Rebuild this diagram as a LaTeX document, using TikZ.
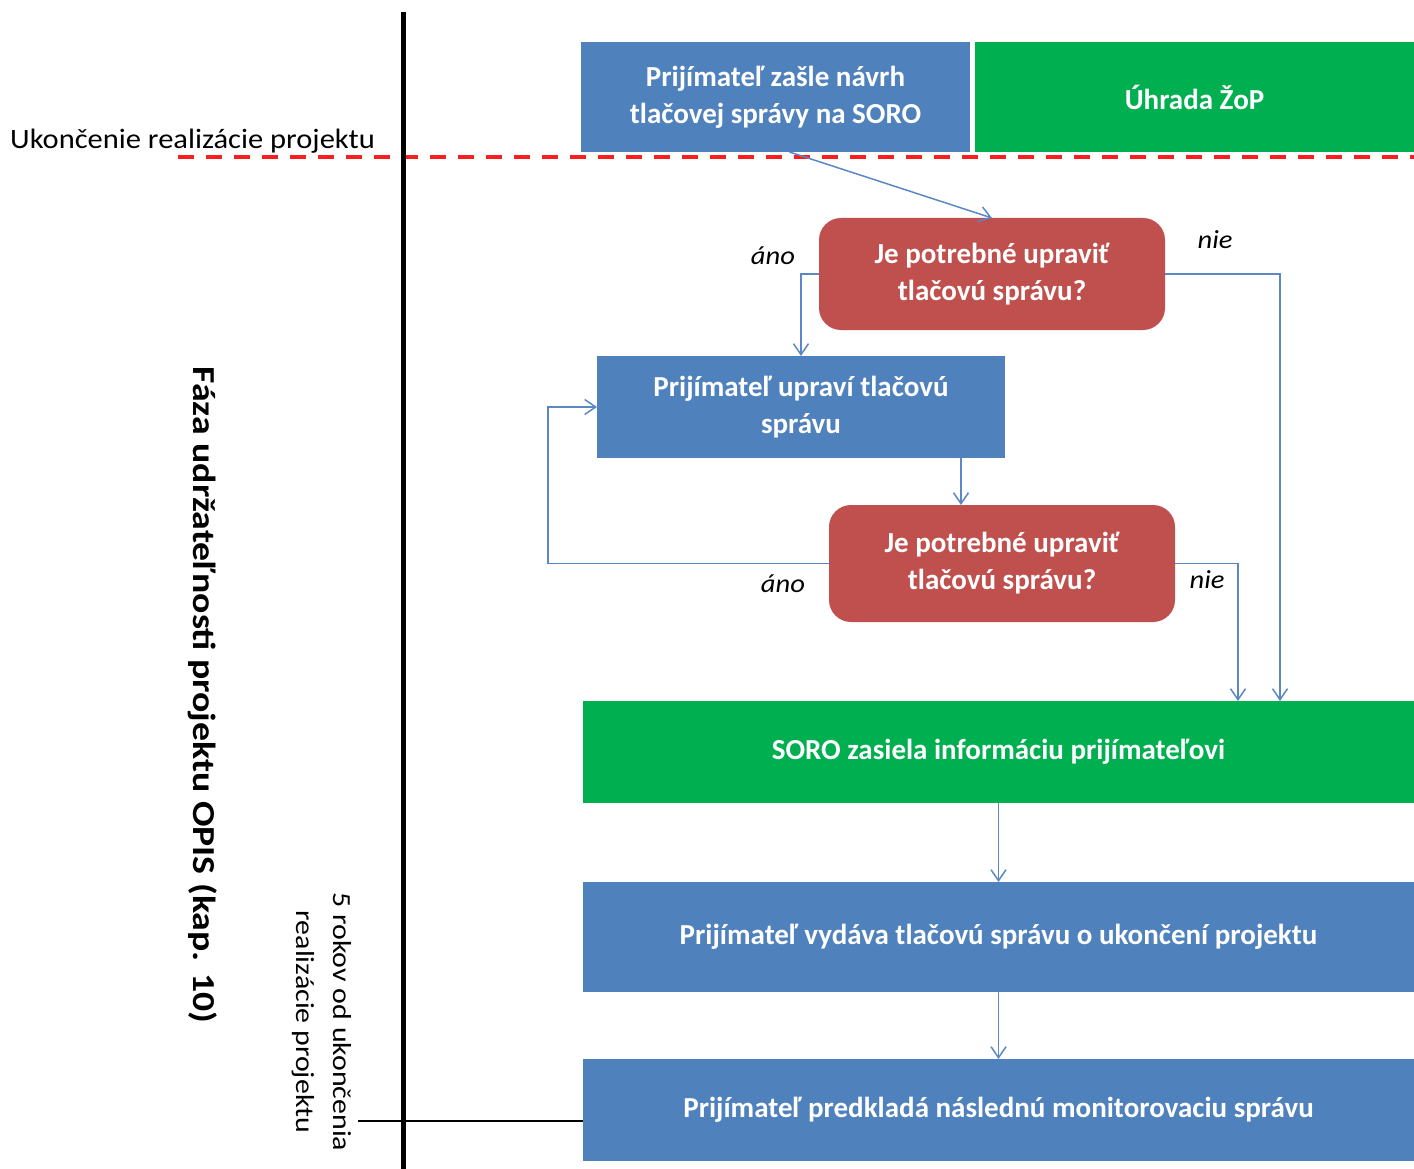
\documentclass[tikz,border=0pt]{standalone}
\usepackage{fontspec}
\setmainfont{Carlito}
\usetikzlibrary{arrows.meta}
\definecolor{boxblue}{RGB}{79,129,189}
\definecolor{boxred}{RGB}{192,80,77}
\definecolor{boxgreen}{RGB}{0,176,80}
\definecolor{lineblue}{RGB}{91,135,197}
\definecolor{dashred}{RGB}{250,30,30}
\tikzset{
  box/.style={inner sep=0pt, outer sep=0pt, align=center, text=white,
    font=\fontsize{29}{37}\selectfont\bfseries},
  bluebox/.style={box, fill=boxblue},
  greenbox/.style={box, fill=boxgreen},
  redbox/.style={box, fill=boxred, rounded corners=22pt},
  arr/.style={draw=lineblue, line width=1.5pt, -{Straight Barb[length=11pt,width=15pt]}},
  lbl/.style={font=\fontsize{26}{30}\selectfont\itshape, inner sep=0pt, xscale=1.1}
}
\begin{document}
\begin{tikzpicture}[x=1pt,y=-1pt]
\useasboundingbox (0,0) rectangle (1414,1169);
% boxes
\node[bluebox, minimum width=389pt, minimum height=110pt] (b1) at (775.5,97) {Prijímateľ zašle návrh\\tlačovej správy na SORO};
\node[greenbox, minimum width=439pt, minimum height=110pt] (g1) at (1194.5,97) {Úhrada ŽoP};
\node[redbox, minimum width=346pt, minimum height=112pt] (d1) at (992,274) {Je potrebné upraviť\\tlačovú správu?};
\node[bluebox, minimum width=408pt, minimum height=102pt] (b2) at (801,407) {Prijímateľ upraví tlačovú\\správu};
\node[redbox, minimum width=346pt, minimum height=117pt] (d2) at (1002,563.5) {Je potrebné upraviť\\tlačovú správu?};
\node[greenbox, minimum width=831pt, minimum height=102pt] (g2) at (998.5,752) {SORO zasiela informáciu prijímateľovi};
\node[bluebox, minimum width=831pt, minimum height=110pt] (b3) at (998.5,937) {Prijímateľ vydáva tlačovú správu o ukončení projektu};
\node[bluebox, minimum width=831pt, minimum height=102pt] (b4) at (998.5,1110) {Prijímateľ predkladá následnú monitorovaciu správu};
% timeline
\node[anchor=west, inner sep=0pt, xscale=1.09, font=\fontsize{28}{32}\selectfont] (endlbl) at (10,141) {Ukončenie realizácie projektu};
\coordinate (dashL) at (178,157);
\coordinate (dashR) at (1414,157);
\draw[dashred, line width=3.5pt, dash pattern=on 16pt off 12pt] (dashL) -- (dashR);
\coordinate (vtop) at (403,12);
\coordinate (vbot) at (403,1169);
\draw[black, line width=5pt] (vtop) -- (vbot);
\coordinate (hL) at (358,1121);
\draw[black, line width=2.5pt] (hL) -- (hL -| b4.west);
\node[rotate=-90, xscale=1.18, inner sep=0pt, font=\fontsize{32}{36}\selectfont\bfseries] (phase) at (203,695) {Fáza udržateľnosti projektu OPIS (kap. 10)};
\node[rotate=-90, xscale=1.15, inner sep=0pt, align=center, font=\fontsize{26}{37}\selectfont] (years) at (322,1022) {5 rokov od ukončenia\\realizácie projektu};
% helper x positions
\coordinate (x1) at (1280,0);
\coordinate (x2) at (961,0);
\coordinate (x3) at (548,0);
\coordinate (x4) at (1238,0);
% connectors
\draw[arr] ([xshift=14pt]b1.south) -- (d1.north);
\draw[arr] (d1.west) -| (b2.north);
\draw[arr] (d1.east) -| (g2.north -| x1);
\draw[arr] (b2.south -| x2) -- (d2.north -| x2);
\draw[arr] (d2.west) -- (d2.west -| x3) |- (b2.west);
\draw[arr] (d2.east) -| (g2.north -| x4);
\draw[arr] (g2.south -| b3.north) -- (b3.north);
\draw[arr] (b3.south) -- (b4.north);
% labels
\node[lbl] (ano1) at (773,256) {áno};
\node[lbl] (nie1) at (1215,240) {nie};
\node[lbl] (ano2) at (783,584) {áno};
\node[lbl] (nie2) at (1207,580) {nie};
\end{tikzpicture}
\end{document}
